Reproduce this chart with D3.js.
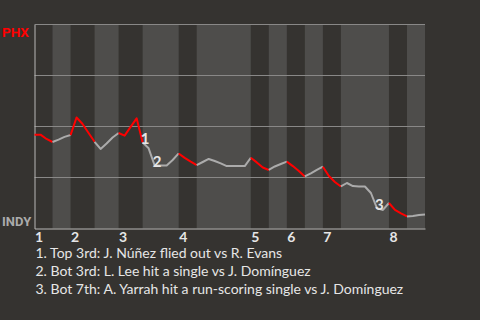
<!DOCTYPE html>
<html>
<head>
<meta charset="utf-8">
<script src="https://cdn.jsdelivr.net/npm/d3@7/dist/d3.min.js"></script>
<style>
  html, body { margin: 0; padding: 0; background: #353330; }
  svg { display: block; }
</style>
</head>
<body>
<svg id="chart" width="480" height="320"></svg>
<script>
// Inning numbers shown under the start of each inning
const innings = ["1", "2", "3", "4", "5", "6", "7", "8"];
// Play index where each half-inning begins (last entry = final play)
const halfStarts = [0, 3, 6, 10, 14, 18, 24, 27, 36, 39, 42, 45, 48, 51, 59, 62, 65];
// PHX win probability after each play (index 0 = first pitch)
const winProb = [
  0.460, 0.460, 0.439, 0.424, 0.436, 0.449, 0.458, 0.544, 0.512, 0.468,
  0.425, 0.390, 0.417, 0.446, 0.468, 0.455, 0.498, 0.540, 0.422, 0.393,
  0.309, 0.309, 0.309, 0.336, 0.368, 0.346, 0.328, 0.311, 0.326, 0.341,
  0.331, 0.319, 0.306, 0.306, 0.306, 0.306, 0.347, 0.324, 0.299, 0.287,
  0.304, 0.316, 0.328, 0.306, 0.282, 0.255, 0.270, 0.287, 0.303, 0.257,
  0.228, 0.206, 0.223, 0.208, 0.206, 0.206, 0.174, 0.100, 0.091, 0.125,
  0.091, 0.074, 0.059, 0.061, 0.066, 0.069
];
// Team names: top of the scale, bottom of the scale
const teamLabels = ["PHX", "INDY"];
// Horizontal guide levels
const gridLevels = [0.25, 0.5, 0.75, 1];
// Key plays marked on the line
const notePlays = [18, 20, 57];
const noteMarks = ["1", "2", "3"];
const noteTexts = [
  "1. Top 3rd: J. Núñez flied out vs R. Evans",
  "2. Bot 3rd: L. Lee hit a single vs J. Domínguez",
  "3. Bot 7th: A. Yarrah hit a run-scoring single vs J. Domínguez"
];

const svg = d3.select("#chart");
const plotLeft = 34.5, plotRight = 425, plotTop = 24.5, plotBottom = 228.5;

const x = d3.scaleLinear().domain([0, halfStarts[halfStarts.length - 1]]).range([plotLeft, plotRight]);
const y = d3.scaleLinear().domain([0, 1]).range([plotBottom, plotTop]);

const colors = {
  band: "#4e4d4b",
  grid: "#898887",
  axis: "#b9b8b6",
  away: "#ff0000",
  home: "#ababab",
  text: "#e6e6e6"
};

// Half-inning bands: bottom halves shaded lighter
const halves = d3.range(halfStarts.length - 1).map(h => ({ h, s: halfStarts[h], e: halfStarts[h + 1] }));
svg.append("g").selectAll("rect")
  .data(halves.filter(d => d.h % 2 === 1))
  .join("rect")
  .attr("x", d => x(d.s))
  .attr("y", plotTop)
  .attr("width", d => x(d.e) - x(d.s))
  .attr("height", plotBottom - plotTop)
  .attr("fill", colors.band);

// Horizontal guides
svg.append("g").selectAll("line")
  .data(gridLevels)
  .join("line")
  .attr("x1", plotLeft).attr("x2", plotRight)
  .attr("y1", d => y(d)).attr("y2", d => y(d))
  .attr("stroke", colors.grid)
  .attr("stroke-width", 1);

// Bottom axis with inning numbers at the start of each inning
const topHalfStarts = halfStarts.filter((d, i) => i % 2 === 0 && i < halfStarts.length - 1);
const xAxis = d3.axisBottom(x)
  .tickValues(topHalfStarts)
  .tickFormat((d, i) => innings[i])
  .tickSize(0)
  .tickPadding(4);
const gx = svg.append("g")
  .attr("transform", `translate(0,${plotBottom})`)
  .call(xAxis);
gx.select(".domain").attr("stroke", colors.axis).attr("stroke-width", 1);
gx.selectAll(".tick text")
  .attr("text-anchor", "start")
  .attr("fill", colors.text)
  .style("font", "bold 14px Lato, sans-serif");

// Left axis line
const yAxis = d3.axisLeft(y).tickValues([]).tickSize(0);
const gy = svg.append("g").attr("transform", `translate(${plotLeft},0)`).call(yAxis);
gy.select(".domain").attr("stroke", colors.axis).attr("stroke-width", 1);

// Team labels at either end of the scale
svg.append("text")
  .attr("x", 2).attr("y", y(1) + 12)
  .attr("fill", colors.away)
  .style("font", "bold 13.5px Roboto, sans-serif")
  .text(teamLabels[0]);
svg.append("text")
  .attr("x", 2).attr("y", y(0) - 2.5)
  .attr("fill", colors.home)
  .style("font", "bold 13px Roboto, sans-serif")
  .text(teamLabels[1]);

// Win probability line, coloured by which team is batting
const line = d3.line().x(d => x(d.i)).y(d => y(d.v));
svg.append("g").selectAll("path")
  .data(halves)
  .join("path")
  .attr("d", d => line(d3.range(d.s, d.e + 1).map(i => ({ i, v: winProb[i] }))))
  .attr("fill", "none")
  .attr("stroke", d => d.h % 2 === 0 ? colors.away : colors.home)
  .attr("stroke-width", 2)
  .attr("stroke-linejoin", "round");

// Markers for key plays
svg.append("g").selectAll("text")
  .data(notePlays)
  .join("text")
  .attr("x", d => x(d) + 2.5)
  .attr("y", d => y(winProb[d]) + 2)
  .attr("text-anchor", "middle")
  .attr("fill", colors.text)
  .style("font", "bold 15px Lato, sans-serif")
  .text((d, i) => noteMarks[i]);

// Play descriptions
svg.append("g").selectAll("text")
  .data(noteTexts)
  .join("text")
  .attr("x", plotLeft + 1)
  .attr("y", (d, i) => 258 + i * 18)
  .attr("fill", colors.text)
  .style("font", "14px Lato, sans-serif")
  .text(d => d);
</script>
</body>
</html>
